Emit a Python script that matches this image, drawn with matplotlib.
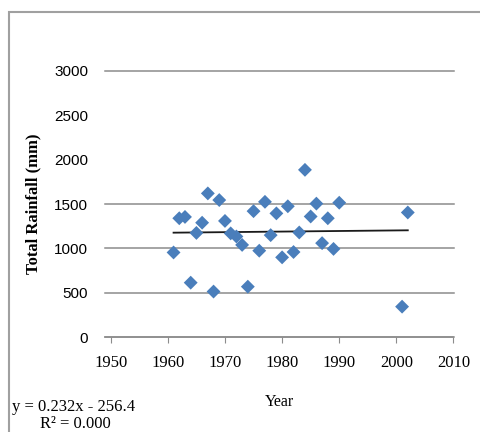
import numpy as np
import matplotlib
matplotlib.use("Agg")
import matplotlib.pyplot as plt
from matplotlib.patches import Rectangle

# values
years = [1961, 1962, 1963, 1964, 1965, 1966, 1967, 1968, 1969, 1970,
         1971, 1972, 1973, 1974, 1975, 1976, 1977, 1978, 1979, 1980,
         1981, 1982, 1983, 1984, 1985, 1986, 1987, 1988, 1989, 1990,
         2001, 2002]
rainfall = [955, 1340, 1355, 615, 1175, 1290, 1620, 515, 1545, 1310,
            1170, 1135, 1040, 570, 1420, 975, 1525, 1150, 1395, 900,
            1475, 960, 1180, 1885, 1360, 1505, 1060, 1340, 995, 1515,
            345, 1405]
y_ticks = [0, 500, 1000, 1500, 2000, 2500, 3000]
grid_levels = [0, 500, 1000, 1500, 3000]
x_ticks = [1950, 1960, 1970, 1980, 1990, 2000, 2010]
eq_text = "y = 0.232x - 256.4"
r2_text = "R\u00b2 = 0.000"

grid_col = "#8c8c8c"
blue = "#4a7ebb"
serif = "Liberation Serif"

fig = plt.figure(figsize=(4.8, 4.32), dpi=100)
ax = fig.add_axes([105 / 480, 94.7 / 432, 348.5 / 480, 266.5 / 432])

# chart area frame (clipped by the image edges on right and bottom)
fig.patches.append(Rectangle((9 / 480, -0.1), 1.2, 1.1 - 12 / 432,
                             transform=fig.transFigure, fill=False,
                             edgecolor="#a0a0a0", linewidth=1.5))

for lev in grid_levels:
    ax.axhline(lev, color=grid_col, linewidth=1.1, zorder=1, clip_on=False)

x = np.array(years, dtype=float)
y = np.array(rainfall, dtype=float)
ax.scatter(x, y, marker="D", s=50, color=blue, edgecolors="none", zorder=3)

# linear trend line over the data range
coef = np.polyfit(x, y, 1)
xs = np.array([x.min(), x.max()])
ax.plot(xs, np.polyval(coef, xs), color="#1a1a1a", linewidth=1.3, zorder=2)

ax.set_xlim(1949, 2010)
ax.set_ylim(0, 3000)
ax.set_xticks(x_ticks)
ax.set_yticks(y_ticks)
for s in ["top", "right", "left"]:
    ax.spines[s].set_visible(False)
ax.spines["bottom"].set_color(grid_col)
ax.spines["bottom"].set_linewidth(1.1)
ax.tick_params(axis="x", length=4, color=grid_col, pad=9, labelsize=12)
ax.tick_params(axis="y", length=0, pad=12, labelsize=11)
for lbl in ax.get_xticklabels():
    lbl.set_family(serif)
for lbl in ax.get_yticklabels():
    lbl.set_family("Liberation Sans")

ax.set_xlabel("Year", family=serif, fontsize=11.5, labelpad=16)
ax.set_ylabel("Total Rainfall (mm)", family=serif,
              fontsize=12, fontweight="bold", labelpad=9)

fig.text(12 / 480, 1 - 407 / 432, eq_text, family=serif,
         fontsize=12, va="center", ha="left")
fig.text(40 / 480, 1 - 424 / 432, r2_text, family=serif,
         fontsize=12, va="center", ha="left")

fig.savefig("out.png", dpi=100)
